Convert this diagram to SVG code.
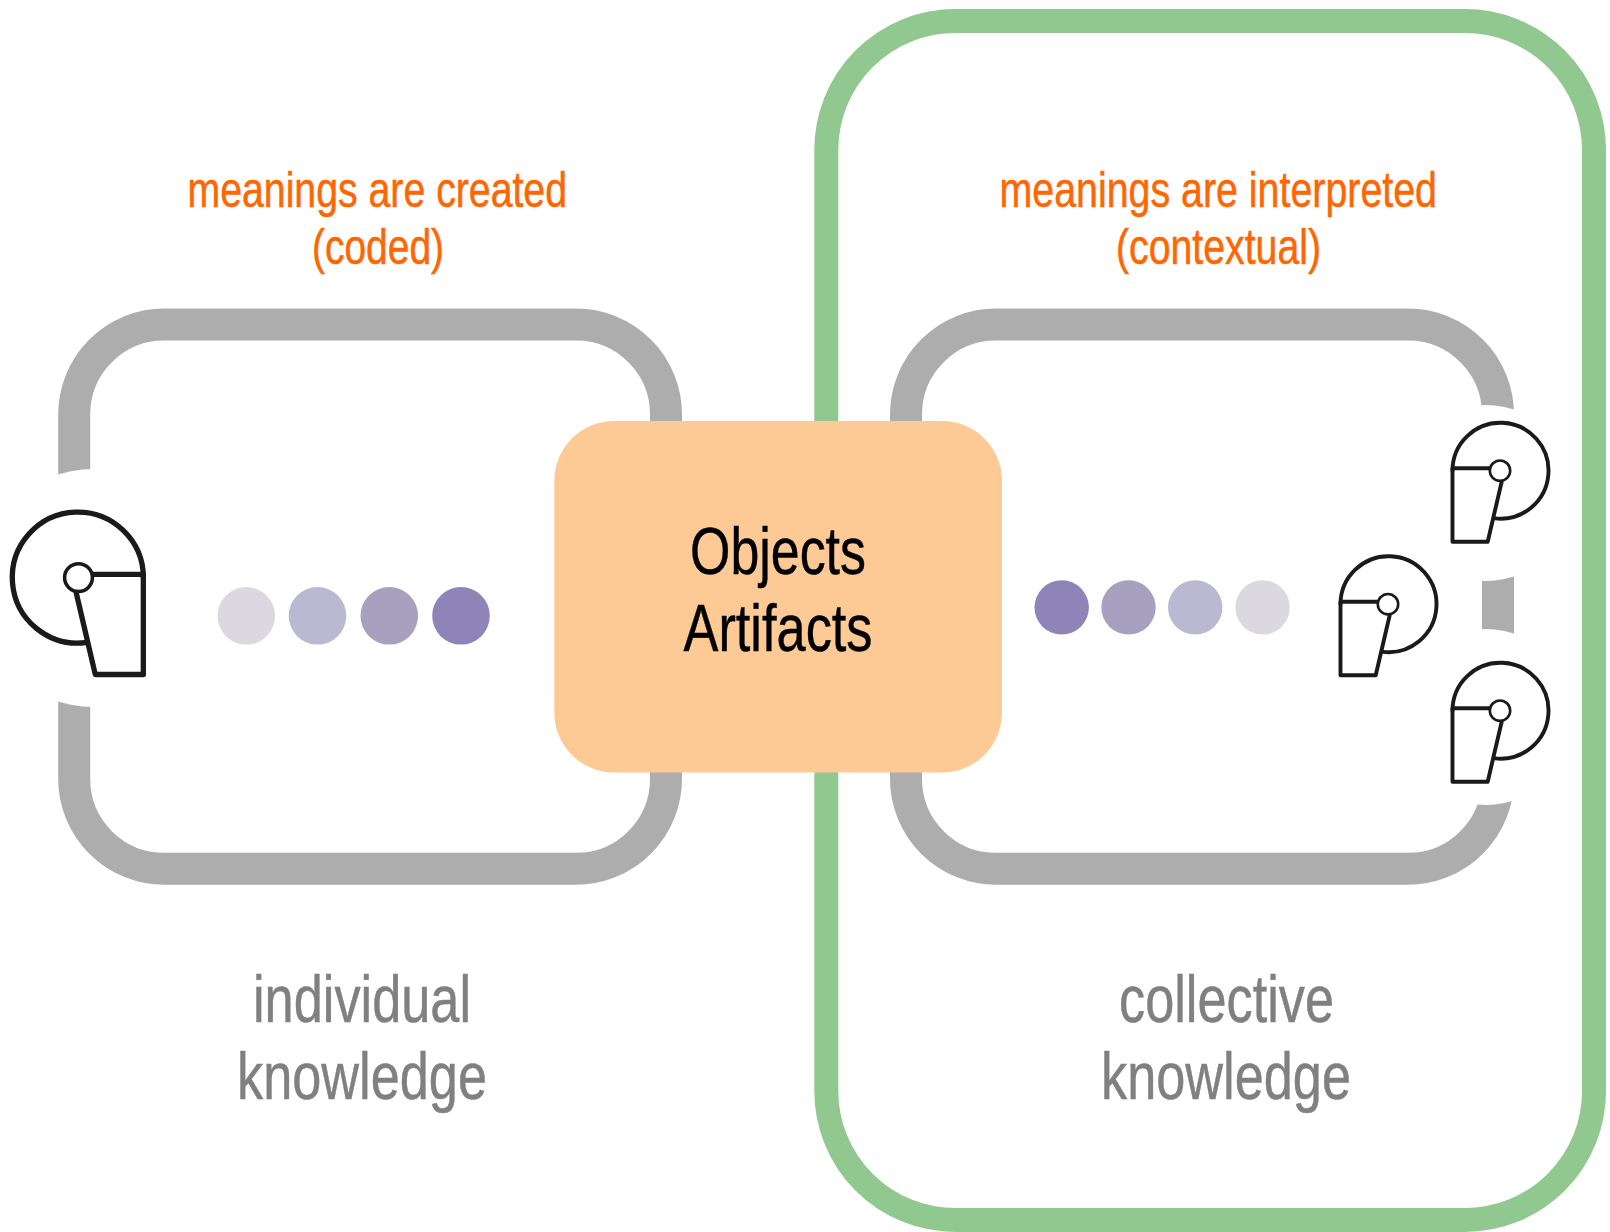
<svg xmlns="http://www.w3.org/2000/svg" width="1610" height="1232" viewBox="0 0 1610 1232">
<style>
text{font-family:"Liberation Sans",Arial,sans-serif;stroke-width:.5}
.o{font-size:50px;fill:#ff6600;stroke:#ff6600}
.k{font-size:67px;fill:#000;stroke:#000}
.g{font-size:67px;fill:#808080;stroke:#808080}
.ln{fill:none;stroke:#adadad;stroke-width:32}
.h{fill:none;stroke:#1a1a1a;stroke-width:3.9;stroke-linejoin:round;stroke-linecap:round}
.hc{fill:#fff;stroke:#1a1a1a;stroke-width:2.6}
.w{fill:#fff}
</style>
<defs>
<g id="head">
<path class="h" d="M-47.5,0A48,48 0 1 1 -5,47.7"/>
<path class="h" d="M-47.5,-2.4H-11M-47.5,-2.4V71H-12.3L1.7,11"/>
<circle class="hc" r="10.2"/>
</g>
</defs>
<rect width="1610" height="1232" fill="#fff"/>
<g id="collective-boundary"><rect x="826.3" y="21" width="767.7" height="1199" rx="129" ry="129" fill="none" stroke="#91c88f" stroke-width="24"/></g>
<g id="connectors">
<rect class="ln" x="74.2" y="324.5" width="591.8" height="544.3" rx="90" ry="90"/>
<rect class="ln" x="906" y="324.5" width="592" height="544.3" rx="90" ry="90"/>
<circle class="w" cx="94" cy="588" r="119"/>
<circle class="w" cx="1486" cy="493" r="88"/>
<circle class="w" cx="1486" cy="717" r="88"/>
</g>
<g id="objects"><rect x="554.3" y="421" width="447.7" height="351.6" rx="60" ry="60" fill="#fdca96"/>
<text class="k" x="690" y="574" textLength="176" lengthAdjust="spacingAndGlyphs">Objects</text>
<text class="k" x="683.5" y="650.5" textLength="189" lengthAdjust="spacingAndGlyphs">Artifacts</text></g>
<g id="label-created"><text class="o" x="187.5" y="207" textLength="379.5" lengthAdjust="spacingAndGlyphs">meanings are created</text>
<text class="o" x="312" y="264" textLength="132" lengthAdjust="spacingAndGlyphs">(coded)</text></g>
<g id="label-interpreted"><text class="o" x="999.5" y="207" textLength="437.5" lengthAdjust="spacingAndGlyphs">meanings are interpreted</text>
<text class="o" x="1116" y="264" textLength="205" lengthAdjust="spacingAndGlyphs">(contextual)</text></g>
<g id="label-individual"><text class="g" x="253" y="1022" textLength="218" lengthAdjust="spacingAndGlyphs">individual</text>
<text class="g" x="237" y="1098.5" textLength="250" lengthAdjust="spacingAndGlyphs">knowledge</text></g>
<g id="label-collective"><text class="g" x="1119" y="1022" textLength="215" lengthAdjust="spacingAndGlyphs">collective</text>
<text class="g" x="1101" y="1098.5" textLength="250" lengthAdjust="spacingAndGlyphs">knowledge</text></g>
<g id="dots-left">
<circle cx="246.3" cy="615.8" r="28.8" fill="#dbd8e0"/>
<circle cx="317.5" cy="615.8" r="28.8" fill="#bbb8d1"/>
<circle cx="389.3" cy="615.8" r="28.8" fill="#a8a0bf"/>
<circle cx="461" cy="615.8" r="28.8" fill="#8e84b8"/>
</g>
<g id="dots-right">
<circle cx="1061.7" cy="607.4" r="27.2" fill="#8e84b8"/>
<circle cx="1128.5" cy="607.4" r="27.2" fill="#a8a0bf"/>
<circle cx="1195.2" cy="607.4" r="27.2" fill="#bbb8d1"/>
<circle cx="1262.6" cy="607.4" r="27.2" fill="#dbd8e0"/>
</g>
<g id="person-left"><use href="#head" transform="translate(78.5,577.6) scale(-1.365,1.365)"/></g>
<g id="person-right-top"><use href="#head" transform="translate(1500,470.7)"/></g>
<g id="person-right-middle"><use href="#head" transform="translate(1388,604.2)"/></g>
<g id="person-right-bottom"><use href="#head" transform="translate(1500,710.7)"/></g>
</svg>
